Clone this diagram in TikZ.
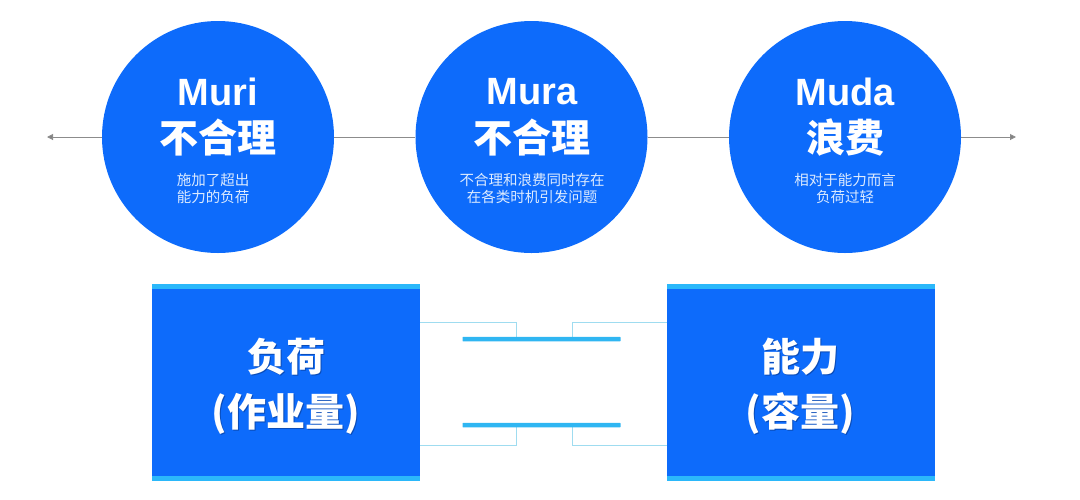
\documentclass[tikz,border=0pt]{standalone}
\usepackage{fontspec}
\setmainfont{Liberation Sans}
\newfontfamily\cjk{Noto Sans CJK SC}
\usetikzlibrary{arrows.meta,calc}
\definecolor{mainblue}{HTML}{0D6BFB}
\definecolor{barblue}{HTML}{2FB6F2}
\definecolor{thinblue}{HTML}{9FDCF0}
\definecolor{capblue}{HTML}{2BB8FA}
\definecolor{subtext}{HTML}{DCEBFF}
\definecolor{shadowblue}{HTML}{0A4CB8}
\tikzset{
  disc/.style={circle,fill=mainblue,draw=none,minimum size=232pt,inner sep=0pt},
  block/.style={rectangle,fill=mainblue,draw=none,minimum width=268pt,minimum height=197pt,inner sep=0pt},
  capbar/.style={rectangle,fill=capblue,draw=none,minimum width=268pt,minimum height=5pt,inner sep=0pt},
  pipe/.style={rectangle,fill=barblue,draw=none,minimum width=158pt,minimum height=4.5pt,inner sep=0pt,rounded corners=0.5pt},
  titletext/.style={text=white,font=\bfseries\fontsize{38}{38}\selectfont,inner sep=0pt,anchor=center},
  cjktext/.style={text=white,font=\cjk\bfseries\fontsize{39}{39}\selectfont,inner sep=0pt,anchor=center},
  cjkshadow/.style={text=shadowblue,font=\cjk\bfseries\fontsize{39}{39}\selectfont,inner sep=0pt,anchor=center},
  subnote/.style={text=subtext,font=\cjk\fontsize{14.5}{17.5}\selectfont,inner sep=0pt,anchor=center,align=center},
  axisline/.style={draw=black!45,line width=1pt},
  axisarrow/.style={draw=black!45,line width=1pt,-{Triangle[length=6pt,width=6pt,fill=black!50]}},
  link/.style={draw=thinblue,line width=0.9pt}
}
\begin{document}
\begin{tikzpicture}[x=1pt,y=-1pt]
\useasboundingbox (0,0) rectangle (1080,499);
\coordinate (leftend) at (47,137);
\coordinate (rightend) at (1016,137);
% circles
\node[disc] (c1) at (218,137) {};
\node[disc] (c2) at (531.5,137) {};
\node[disc] (c3) at (845,137) {};
\draw[axisarrow] (c1.west) -- (leftend);
\draw[axisline] (c1.east) -- (c2.west);
\draw[axisline] (c2.east) -- (c3.west);
\draw[axisarrow] (c3.east) -- (rightend);
\node[titletext] (t1) at (218,92) {Muri};
\node[cjktext] (h1) at (218,138) {不合理};
\node[subnote] (s1) at (213,188.5) {施加了超出\\能力的负荷};
\node[titletext] (t2) at (532,92) {Mura};
\node[cjktext] (h2) at (532,138) {不合理};
\node[subnote] (s2) at (532,188.5) {不合理和浪费同时存在\\在各类时机引发问题};
\node[titletext] (t3) at (845,92) {Muda};
\node[cjktext] (h3) at (845,138) {浪费};
\node[subnote] (s3) at (845,188.5) {相对于能力而言\\负荷过轻};
% blocks
\node[block] (b1) at (286,382.5) {};
\node[block] (b2) at (801,382.5) {};
\node[capbar] (b1top) at (286,286.5) {};
\node[capbar] (b1bot) at (286,478.5) {};
\node[capbar] (b2top) at (801,286.5) {};
\node[capbar] (b2bot) at (801,478.5) {};
% connectors and pipes
\coordinate (k1) at (516,339);
\coordinate (k2) at (572,339);
\coordinate (k3) at (516,425);
\coordinate (k4) at (572,425);
\coordinate (e1) at (420,322);
\coordinate (e2) at (667,322);
\coordinate (e3) at (420,445);
\coordinate (e4) at (667,445);
\draw[link] (e1) -| (k1);
\draw[link] (e2) -| (k2);
\draw[link] (e3) -| (k3);
\draw[link] (e4) -| (k4);
\node[pipe] (p1) at (541.5,339) {};
\node[pipe] (p2) at (541.5,425) {};
% block text
\node[cjkshadow] (l1s) at (287,358) {负荷};
\node[cjktext] (l1) at (286,357) {负荷};
\node[cjkshadow] (l2s) at (287,415) {(作业量)};
\node[cjktext] (l2) at (286,414) {(作业量)};
\node[cjkshadow] (r1s) at (801,358) {能力};
\node[cjktext] (r1) at (800,357) {能力};
\node[cjkshadow] (r2s) at (801,415) {(容量)};
\node[cjktext] (r2) at (800,414) {(容量)};
\end{tikzpicture}
\end{document}
